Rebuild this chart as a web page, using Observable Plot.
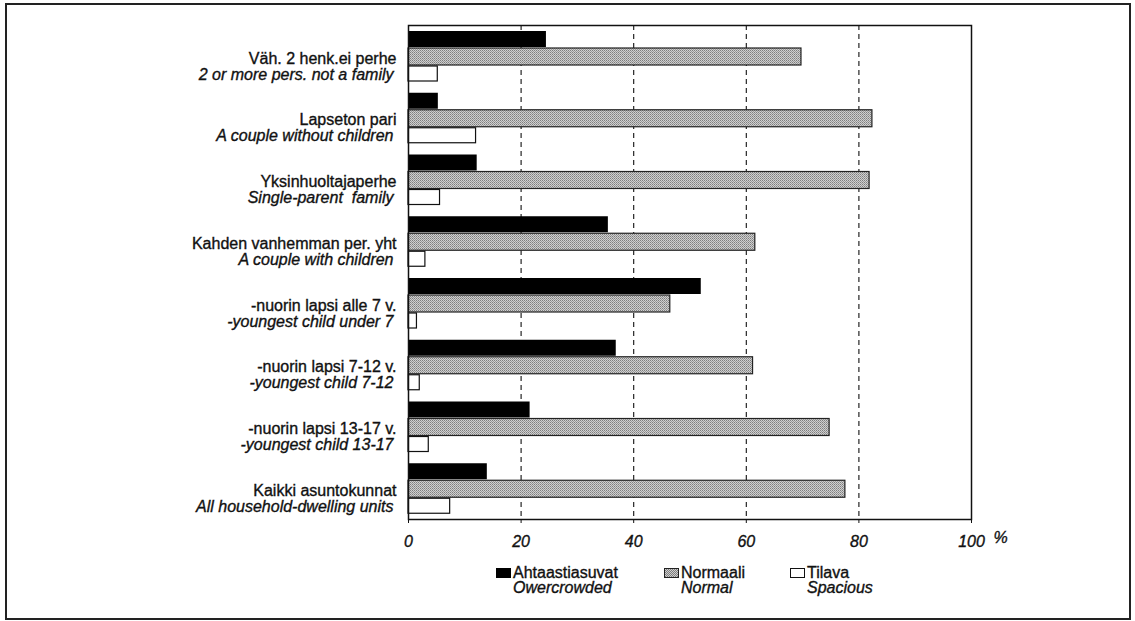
<!DOCTYPE html>
<html><head><meta charset="utf-8">
<script src="https://cdn.jsdelivr.net/npm/d3@7"></script>
<script src="https://cdn.jsdelivr.net/npm/@observablehq/plot@0.6"></script>
<style>
body{margin:0;background:#fff;}
#wrap{position:relative;width:1135px;height:621px;font-family:"Liberation Sans",Arial,Helvetica,sans-serif;color:#111;overflow:hidden;}
#chart{position:absolute;left:0;top:0;}
#chart svg text{stroke:#111;stroke-width:0.35px;}
#border{position:absolute;left:5px;top:3px;width:1122px;height:613px;border:2px solid #222;pointer-events:none;}
.item{position:absolute;top:565px;}
.sw{position:absolute;left:0;top:3px;width:15px;height:10px;box-sizing:border-box;}
.txt{margin-left:17px;font-size:16px;line-height:15px;white-space:nowrap;-webkit-text-stroke:0.35px #111;}
.txt .en{font-style:italic;}
</style></head><body>
<div id="wrap"><div id="chart"></div><div id="legend"></div><div id="border"></div></div>
<script>
// ---- data ----
const catFi = ["Väh. 2 henk.ei perhe", "Lapseton pari", "Yksinhuoltajaperhe", "Kahden vanhemman per. yht",
  "-nuorin lapsi alle 7 v.", "-nuorin lapsi 7-12 v.", "-nuorin lapsi 13-17 v.", "Kaikki asuntokunnat"];
const catEn = ["2 or more pers. not a family", "A couple without children", "Single-parent  family", "A couple with children",
  "-youngest child under 7", "-youngest child 7-12", "-youngest child 13-17", "All household-dwelling units"];
const overcrowded = [24.5, 5.3, 12.2, 35.5, 52.0, 36.9, 21.6, 14.0];
const normal      = [69.8, 82.4, 81.9, 61.6, 46.5, 61.2, 74.8, 77.6];
const spacious    = [5.2, 12.0, 5.6, 3.0, 1.5, 2.0, 3.6, 7.4];
const seriesFi = ["Ahtaastiasuvat", "Normaali", "Tilava"];
const seriesEn = ["Owercrowded", "Normal", "Spacious"];
const xTicks = [0, 20, 40, 60, 80, 100];
const gridTicks = [20, 40, 60, 80];

const rows = catFi.map((c, i) => ({cat: c, en: catEn[i], over: overcrowded[i], normal: normal[i], spac: spacious[i]}));

const H = 560, MT = 25, MB = H - 519;
const band = (H - MT - MB) / catFi.length;

const plot = Plot.plot({
  width: 1135,
  height: H,
  marginLeft: 408,
  marginRight: 164,
  marginTop: MT,
  marginBottom: MB,
  style: {fontFamily: "Liberation Sans, Arial, Helvetica, sans-serif", fontSize: "16px", background: "transparent", color: "#111"},
  x: {domain: [0, 100], ticks: xTicks, tickFormat: d => String(d), tickSize: 4, tickPadding: 12, label: null},
  y: {domain: catFi, padding: 0, round: false, axis: null},
  marks: [
    Plot.ruleX(gridTicks, {stroke: "#111", strokeWidth: 1.1, strokeDasharray: "5,4"}),
    Plot.barX(rows, {x: "over", y: "cat", fill: "#000", insetTop: 6, insetBottom: band - 22}),
    Plot.barX(rows, {x: "normal", y: "cat", fill: "url(#halftone)", stroke: "#222", strokeWidth: 1.2, insetTop: 23, insetBottom: band - 40}),
    Plot.barX(rows, {x: "spac", y: "cat", fill: "#fff", stroke: "#111", strokeWidth: 1.2, insetTop: 41, insetBottom: band - 56}),
    Plot.frame({stroke: "#111", strokeWidth: 1.5}),
    Plot.text(rows, {x: () => 0, y: "cat", text: "cat", textAnchor: "end", dx: -12, dy: 2, fontSize: 16, fill: "#111"}),
    Plot.text(rows, {x: () => 0, y: "cat", text: "en", textAnchor: "end", dx: -15, dy: 18, fontSize: 16, fontStyle: "italic", fill: "#111"}),
    Plot.text(["%"], {x: () => 100, frameAnchor: "bottom", dy: 23, dx: 29, text: d => d, fontSize: 16, fontStyle: "italic", fill: "#111"})
  ]
});

const svg = d3.select(plot);
const defs = svg.insert("defs", ":first-child");
const pat = defs.append("pattern").attr("id", "halftone").attr("width", 2).attr("height", 2).attr("patternUnits", "userSpaceOnUse");
pat.append("rect").attr("width", 2).attr("height", 2).attr("fill", "#cfcfcf");
pat.append("rect").attr("x", 0).attr("y", 0).attr("width", 1).attr("height", 1).attr("fill", "#7e7e7e");
pat.append("rect").attr("x", 1).attr("y", 1).attr("width", 1).attr("height", 1).attr("fill", "#999");
svg.selectAll('g[aria-label^="x-axis"] text').style("font-style", "italic");
document.getElementById("chart").appendChild(plot);

// ---- legend ----
const legendLeft = [496, 664, 790];
const swatchStyle = [
  "background:#000;",
  "background:repeating-conic-gradient(#7e7e7e 0 25%, #cfcfcf 0 50%) 0 0/2px 2px;border:1px solid #222;",
  "background:#fff;border:1.2px solid #111;"
];
const lg = document.getElementById("legend");
seriesFi.forEach((s, i) => {
  const it = document.createElement("div");
  it.className = "item";
  it.style.left = legendLeft[i] + "px";
  it.innerHTML = `<span class="sw" style="${swatchStyle[i]}"></span><div class="txt"><div>${s}</div><div class="en">${seriesEn[i]}</div></div>`;
  lg.appendChild(it);
});
</script>
</body></html>
